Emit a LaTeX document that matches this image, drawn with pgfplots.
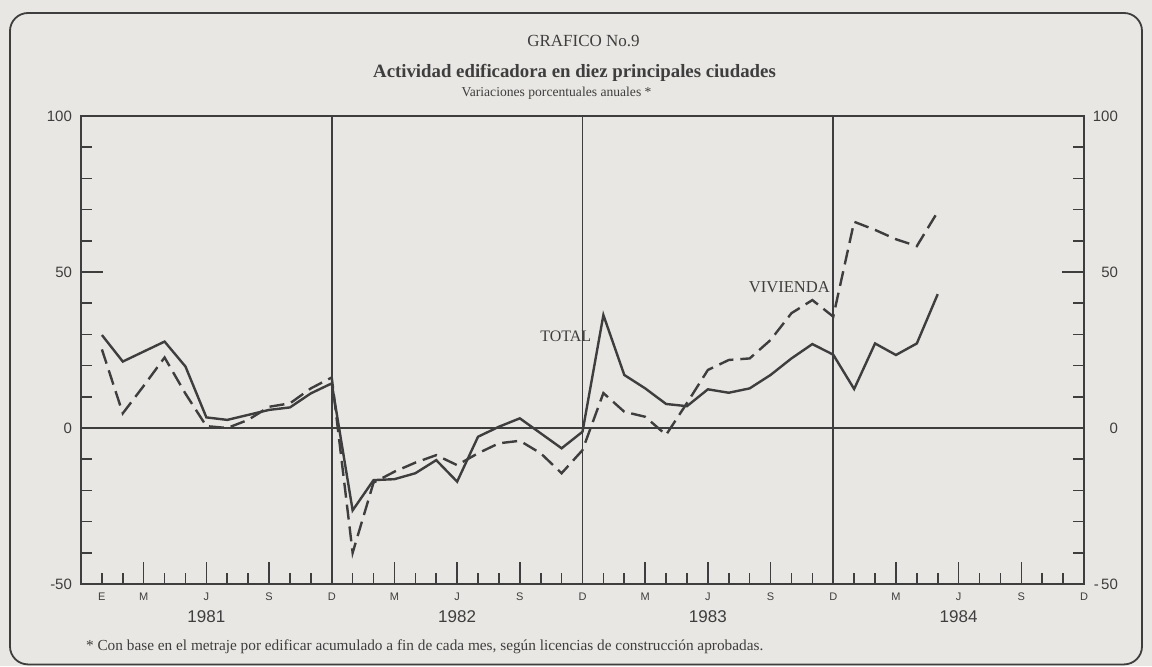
\documentclass[border=0pt]{standalone}
\usepackage{fontspec}
\setmainfont{Liberation Serif}
\newfontfamily\sansf{Liberation Sans}
\usepackage{pgfplots}
\pgfplotsset{compat=1.18}
\definecolor{bg}{RGB}{233,231,227}
\definecolor{ink}{RGB}{62,62,62}

\pgfplotstableread{
m total
1 29.8
2 21.3
3 24.5
4 27.7
5 19.7
6 3.4
7 2.6
8 4.2
9 5.8
10 6.6
11 11.1
12 14.3
13 -26.4
14 -16.7
15 -16.4
16 -14.5
17 -10.3
18 -17.2
19 -2.8
20 0.4
21 3.1
22 -1.7
23 -6.5
24 -1.2
25 36.2
26 17.0
27 12.7
28 7.7
29 7.0
30 12.4
31 11.3
32 12.7
33 17.0
34 22.3
35 26.9
36 23.5
37 12.5
38 27.1
39 23.4
40 27.1
41 42.9
}\totaltab

\pgfplotstableread{
m viv
1 25.2
2 4.7
3 13.5
4 22.6
5 11.0
6 0.6
7 0.0
8 2.6
9 6.8
10 7.9
11 12.7
12 16.2
13 -40.0
14 -17.5
15 -14.0
16 -11.1
17 -8.7
18 -11.9
19 -8.1
20 -4.9
21 -4.1
22 -8.1
23 -14.5
24 -7.1
25 11.2
26 5.2
27 3.6
28 -2.2
29 8.0
30 18.6
31 21.8
32 22.3
33 28.2
34 36.8
35 41.0
36 35.7
37 66.1
38 63.5
39 60.5
40 58.3
41 69.3
}\vivtab

\tikzset{
  mlab/.style={ink, font=\sansf\fontsize{5.5}{6}\selectfont, yshift=-6.5pt},
  ylab/.style={ink, font=\sansf\fontsize{8.5}{9}\selectfont, yshift=-16.5pt},
  llab/.style={ink, font=\sansf\fontsize{7.5}{8}\selectfont, anchor=east, xshift=-1pt},
  rlab/.style={ink, font=\sansf\fontsize{7.5}{8}\selectfont, anchor=east, xshift=20.5pt},
}

\begin{document}
\begin{tikzpicture}[x=1pt,y=1pt]
\useasboundingbox (0,0) rectangle (576,333);
\fill[bg] (0,0) rectangle (576,333);
\draw[ink, line width=0.9pt, rounded corners=9pt] (5,0.8) rectangle (571,326.5);

\begin{axis}[
  at={(40.5pt,41pt)}, anchor=south west,
  scale only axis, width=501.5pt, height=234pt,
  xmin=0, xmax=48, ymin=-50, ymax=100,
  axis line style={ink, line width=0.8pt},
  xtick={3,6,...,48}, minor xtick={1,2,...,48},
  ytick={-50,0,50,100}, minor ytick={-40,-30,...,90},
  xtick pos=left, ytick pos=both, tick align=inside,
  major tick length=11pt, minor tick length=5.6pt,
  every tick/.style={ink, line width=0.8pt},
  xticklabels={}, yticklabels={},
  clip=false,
]
% year separators and zero line
\draw[ink, line width=0.8pt] (axis cs:12,-50) -- (axis cs:12,100);
\draw[ink, line width=0.8pt] (axis cs:24,-50) -- (axis cs:24,100);
\draw[ink, line width=0.8pt] (axis cs:36,-50) -- (axis cs:36,100);
\draw[ink, line width=0.8pt] (axis cs:0,0) -- (axis cs:48,0);

\addplot[ink, line width=1.2pt, line join=miter] table[x=m, y=total] {\totaltab};
\addplot[ink, line width=1.2pt, dash pattern=on 7.5pt off 3.5pt] table[x=m, y=viv] {\vivtab};

\node[ink, font=\fontsize{8}{9}\selectfont] at (axis cs:23.2,29.5) {TOTAL};
\node[ink, font=\fontsize{8.3}{9}\selectfont] at (axis cs:33.9,45.2) {VIVIENDA};

% month labels
\node[mlab] at (axis cs:1,-50) {E};
\node[mlab] at (axis cs:3,-50) {M};
\node[mlab] at (axis cs:6,-50) {J};
\node[mlab] at (axis cs:9,-50) {S};
\node[mlab] at (axis cs:12,-50) {D};
\node[mlab] at (axis cs:15,-50) {M};
\node[mlab] at (axis cs:18,-50) {J};
\node[mlab] at (axis cs:21,-50) {S};
\node[mlab] at (axis cs:24,-50) {D};
\node[mlab] at (axis cs:27,-50) {M};
\node[mlab] at (axis cs:30,-50) {J};
\node[mlab] at (axis cs:33,-50) {S};
\node[mlab] at (axis cs:36,-50) {D};
\node[mlab] at (axis cs:39,-50) {M};
\node[mlab] at (axis cs:42,-50) {J};
\node[mlab] at (axis cs:45,-50) {S};
\node[mlab] at (axis cs:48,-50) {D};

\node[ylab] at (axis cs:6,-50) {1981};
\node[ylab] at (axis cs:18,-50) {1982};
\node[ylab] at (axis cs:30,-50) {1983};
\node[ylab] at (axis cs:42,-50) {1984};

\node[llab] at (axis cs:0,100) {100};
\node[llab] at (axis cs:0,50) {50};
\node[llab] at (axis cs:0,0) {0};
\node[llab] at (axis cs:0,-50) {-50};

\node[rlab] at (axis cs:48,100) {100};
\node[rlab] at (axis cs:48,50) {50};
\node[rlab] at (axis cs:48,0) {0};
\node[rlab] at (axis cs:48,-50) {-\,50};
\end{axis}

\node[ink, font=\fontsize{8.5}{9}\selectfont] at (291.75,312.5) {GRAFICO No.9};
\node[ink, font=\bfseries\fontsize{9.4}{10}\selectfont] at (287.25,296.5) {Actividad edificadora en diez principales ciudades};
\node[ink, font=\fontsize{6.8}{7}\selectfont] at (278.25,286.5) {Variaciones porcentuales anuales *};
\node[ink, font=\fontsize{7.65}{8}\selectfont, anchor=west] at (39.5,9.5) {* Con base en el metraje por edificar acumulado a fin de cada mes, según licencias de construcción aprobadas.};
\end{tikzpicture}
\end{document}
